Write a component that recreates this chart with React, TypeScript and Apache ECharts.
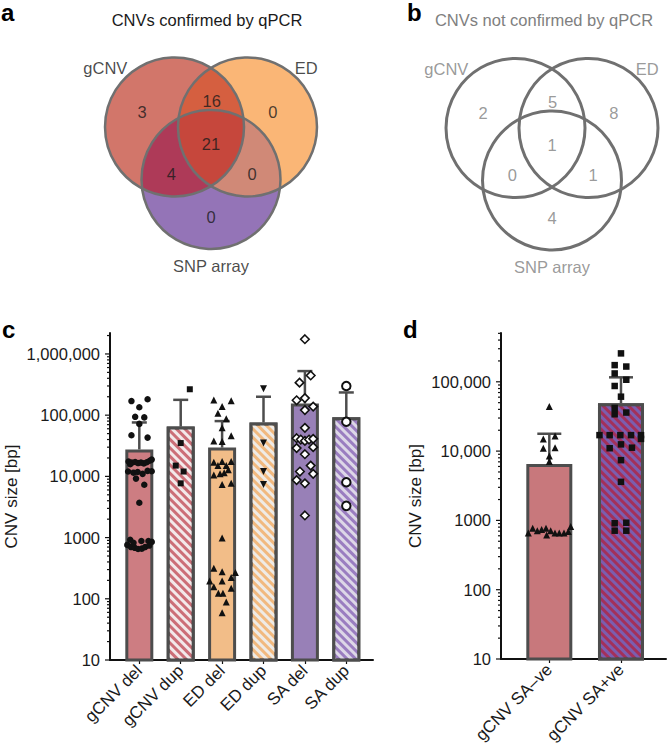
import React, { useEffect, useRef } from 'react';
import * as echarts from 'echarts';

// ---------- DATA ----------
// Venn regions order: gCNV only, gCNV∩ED, ED only, all three, gCNV∩SNP, ED∩SNP, SNP only
const vennRegions = ['gCNV', 'gCNV&ED', 'ED', 'gCNV&ED&SNP', 'gCNV&SNP', 'ED&SNP', 'SNP'];
const confirmedCounts = [3, 16, 0, 21, 4, 0, 0];
const notConfirmedCounts = [2, 5, 8, 1, 0, 1, 4];
const setNames = ['gCNV', 'ED', 'SNP array'];

// Panel c
const sizeCategories = ['gCNV del', 'gCNV dup', 'ED del', 'ED dup', 'SA del', 'SA dup'];
const sizeMeans = [27500, 65000, 29500, 76000, 155000, 92500];
const sizeUpper = [76000, 178000, 80000, 200000, 525000, 235000];
const yTicksC = [10, 100, 1000, 10000, 100000, 1000000];

const gcnvDelBp = [170000, 182000, 135000, 94000, 92000, 72000, 47000, 43000, 17500, 16800, 17200, 16500, 16800, 16300, 17000, 18000, 18800, 15800, 12000, 11500, 11800, 11000, 12300, 12100, 9200, 7300, 3700, 920, 880, 880, 850, 760, 700, 680, 650, 660, 700, 740, 820];
const gcnvDelJitter = [-0.19, 0.2, 0.0, -0.1, 0.12, 0.0, -0.19, 0.2, -0.26, -0.18, -0.1, -0.03, 0.04, 0.11, 0.18, 0.25, 0.3, -0.22, -0.27, -0.14, -0.04, 0.08, 0.2, 0.3, -0.08, 0.12, 0.0, -0.22, 0.05, 0.22, 0.3, -0.29, -0.2, -0.11, -0.03, 0.06, 0.14, 0.24, -0.14];
const gcnvDupBp = [265000, 35000, 15000, 12000, 7700];
const gcnvDupJitter = [0.22, 0.0, -0.12, 0.07, 0.0];
const edDelBp = [177000, 172000, 138000, 107000, 87000, 62000, 38000, 46000, 37000, 17000, 15000, 17500, 15000, 17500, 10500, 11000, 11500, 12800, 7400, 7700, 980, 315, 277, 270, 195, 195, 222, 157, 123, 123, 148, 89, 59];
const edDelJitter = [-0.2, 0.22, 0.0, -0.1, 0.1, 0.0, -0.2, 0.22, 0.0, -0.2, -0.1, 0.0, 0.1, 0.22, -0.2, -0.05, 0.05, 0.15, 0.0, 0.22, 0.0, -0.2, 0.0, 0.32, -0.3, 0.0, 0.22, -0.2, -0.09, 0.02, 0.22, 0.1, 0.0];
const edDupBp = [270000, 35000, 12000, 7400];
const edDupJitter = [0, 0, 0, 0];
const saDelBp = [1740000, 445000, 340000, 175000, 190000, 138000, 121000, 62000, 42000, 40000, 38000, 40000, 41000, 29000, 30000, 23000, 15000, 12000, 11000, 8700, 7700, 2300];
const saDelJitter = [0, 0.14, -0.13, -0.2, 0, 0.2, 0, 0, -0.2, -0.1, 0, 0.1, 0.2, -0.2, 0.2, 0, 0.14, -0.12, 0.2, -0.2, 0, 0];
const saDupBp = [300000, 78000, 8000, 3300];
const saDupJitter = [0, 0, 0, 0];

// Panel d
const saCategories = ['gCNV SA\u2013ve', 'gCNV SA+ve'];
const saMeans = [6500, 49000];
const saUpper = [17800, 116000];
const yTicksD = [10, 100, 1000, 10000, 100000];
const saNegBp = [44000, 15000, 16500, 11000, 11200, 8500, 7100, 660, 770, 710, 740, 770, 710, 615, 660, 660, 660, 690, 815];
const saNegJitter = [0, -0.084, 0.08, -0.084, 0.08, 0, 0, -0.293, -0.232, -0.167, -0.107, -0.046, 0.019, -0.037, 0.079, 0.139, 0.205, 0.265, 0.298];
const saPosBp = [257000, 174000, 166000, 132000, 107000, 87000, 61000, 42000, 34000, 36000, 17000, 17000, 17000, 17000, 17000, 15000, 11000, 12500, 11200, 7400, 3600, 910, 925, 710, 710];
const saPosJitter = [0, -0.088, 0.074, -0.088, 0.074, -0.088, 0, -0.088, -0.088, 0.074, -0.3, -0.158, -0.009, 0.14, 0.279, 0.279, -0.158, 0, 0.153, 0, 0, -0.088, 0.074, -0.088, 0.074];

// ---------- LAYOUT / STYLE ----------
const FONT = '"Liberation Sans", Arial, Helvetica, sans-serif';
const INK = '#1a1a1a';
const GREY = '#808080';
const BAR_EDGE = '#4d4d4d';

// Venn layout in units of circle radius
const VENN_CENTERS = [[-0.525, 0], [0.525, 0], [0, -0.755]];
const VENN_COUNT_POS = [[-0.99, 0.22], [0.01, 0.37], [0.89, 0.22], [0, -0.25], [-0.57, -0.68], [0.59, -0.68], [0, -1.3]];
const VENN_NAME_POS = [[-1.52, 0.85], [1.37, 0.85], [0, -2.0]];
const VENN_FILLS: Record<string, string> = {
  A: '#d2766a', B: '#fab676', C: '#9474b7',
  AB: '#d55f40', AC: '#ae3a58', BC: '#d08977', ABC: '#c6473c',
};

function fmtBp(v: number) {
  const n = Math.round(v);
  if (n < 10000) return String(n);
  return String(n).replace(/\B(?=(\d{3})+(?!\d))/g, ',');
}

function isDecade(v: number) {
  const l = Math.log10(v);
  return Math.abs(l - Math.round(l)) < 1e-6;
}

function intersect(p: number[], q: number[], r: number) {
  const dx = q[0] - p[0];
  const dy = q[1] - p[1];
  const d = Math.hypot(dx, dy);
  const a = d / 2;
  const h = Math.sqrt(Math.max(r * r - a * a, 0));
  const mx = p[0] + dx / 2;
  const my = p[1] + dy / 2;
  const ux = -dy / d;
  const uy = dx / d;
  return [[mx + h * ux, my + h * uy], [mx - h * ux, my - h * uy]];
}

function vennRenderer(kinds: string[], stroke: string, lw: number) {
  const idx: Record<string, number> = { A: 0, B: 1, C: 2 };
  return (params: any, api: any) => {
    const kind = kinds[params.dataIndex];
    const c = VENN_CENTERS.map((p) => api.coord(p));
    const r = api.size([1, 0])[0];
    if (kind[0] === 'o') {
      const i = idx[kind[1]];
      return { type: 'circle', shape: { cx: c[i][0], cy: c[i][1], r }, style: { fill: 'none', stroke, lineWidth: lw } };
    }
    if (kind.length === 1) {
      const i = idx[kind];
      return { type: 'circle', shape: { cx: c[i][0], cy: c[i][1], r }, style: { fill: VENN_FILLS[kind] } };
    }
    if (kind.length === 2) {
      const i = idx[kind[0]];
      const j = idx[kind[1]];
      const [p1, p2] = intersect(c[i], c[j], r);
      const d = `M${p1[0]} ${p1[1]} A${r} ${r} 0 0 1 ${p2[0]} ${p2[1]} A${r} ${r} 0 0 1 ${p1[0]} ${p1[1]} Z`;
      return { type: 'path', shape: { pathData: d }, style: { fill: VENN_FILLS[kind] } };
    }
    // triple intersection
    const pairs = [[0, 1, 2], [0, 2, 1], [1, 2, 0]];
    const pts = pairs.map(([i, j, k]) => {
      const [p1, p2] = intersect(c[i], c[j], r);
      const d1 = Math.hypot(p1[0] - c[k][0], p1[1] - c[k][1]);
      const d2 = Math.hypot(p2[0] - c[k][0], p2[1] - c[k][1]);
      return d1 < d2 ? p1 : p2;
    });
    const cx = (pts[0][0] + pts[1][0] + pts[2][0]) / 3;
    const cy = (pts[0][1] + pts[1][1] + pts[2][1]) / 3;
    pts.sort((u, v) => Math.atan2(u[1] - cy, u[0] - cx) - Math.atan2(v[1] - cy, v[0] - cx));
    let d = `M${pts[0][0]} ${pts[0][1]}`;
    for (let t = 1; t <= 3; t++) {
      const p = pts[t % 3];
      d += ` A${r} ${r} 0 0 1 ${p[0]} ${p[1]}`;
    }
    d += ' Z';
    return { type: 'path', shape: { pathData: d }, style: { fill: VENN_FILLS.ABC } };
  };
}

function vennSeries(grid: number, kinds: string[], stroke: string, lw: number) {
  return {
    type: 'custom',
    xAxisIndex: grid,
    yAxisIndex: grid,
    silent: true,
    renderItem: vennRenderer(kinds, stroke, lw),
    data: kinds.map(() => [0, 0]),
  };
}

function vennLabelSeries(grid: number, positions: number[][], texts: string[], color: string) {
  return {
    type: 'scatter',
    xAxisIndex: grid,
    yAxisIndex: grid,
    silent: true,
    clip: false,
    symbolSize: 1,
    itemStyle: { color: 'rgba(0,0,0,0)' },
    data: positions.map((p, i) => ({ value: p, label: { formatter: texts[i] } })),
    label: { show: true, position: 'inside', fontSize: 16.5, color, fontFamily: FONT },
  };
}

function tickSeries(grid: number, maxVal: number) {
  const vals: number[] = [];
  for (let k = 1; k <= 7; k++) {
    for (let m = 1; m <= 9; m++) {
      const v = m * Math.pow(10, k);
      if (v <= maxVal * 1.0001) vals.push(v);
    }
  }
  return {
    type: 'custom',
    xAxisIndex: grid,
    yAxisIndex: grid,
    silent: true,
    clip: false,
    encode: { x: 0, y: 1 },
    renderItem: (params: any, api: any) => {
      const v = api.value(1);
      const y = api.coord([0, v])[1];
      const x0 = params.coordSys.x;
      const len = isDecade(v) ? 5 : 3;
      return { type: 'line', shape: { x1: x0 - len, y1: y, x2: x0, y2: y }, style: { stroke: '#111', lineWidth: 1.2 } };
    },
    data: vals.map((v) => [0, v]),
  };
}

function errorSeries(grid: number, means: number[], upper: number[], cap: number) {
  return {
    type: 'custom',
    xAxisIndex: grid,
    yAxisIndex: grid,
    silent: true,
    encode: { x: 0, y: [1, 2] },
    renderItem: (params: any, api: any) => {
      const x = api.value(0);
      const p0 = api.coord([x, api.value(1)]);
      const p1 = api.coord([x, api.value(2)]);
      const st = { stroke: BAR_EDGE, lineWidth: 2.5 };
      return {
        type: 'group',
        children: [
          { type: 'line', shape: { x1: p0[0], y1: p0[1], x2: p1[0], y2: p1[1] }, style: st },
          { type: 'line', shape: { x1: p1[0] - cap, y1: p1[1], x2: p1[0] + cap, y2: p1[1] }, style: st },
        ],
      };
    },
    data: means.map((m, i) => [i, m, upper[i]]),
  };
}

function pointSeries(grid: number, cat: number, values: number[], jitter: number[], sym: any) {
  return {
    type: 'scatter',
    xAxisIndex: grid,
    yAxisIndex: grid,
    silent: true,
    clip: false,
    symbol: sym.symbol,
    symbolSize: sym.size,
    symbolRotate: sym.rotate || 0,
    itemStyle: sym.hollow
      ? { color: '#fff', borderColor: '#111', borderWidth: sym.bw || 1.6, opacity: 1 }
      : { color: '#111', opacity: 1 },
    data: values.map((v, i) => [cat + jitter[i], v]),
  };
}

function stripe(color: string, gap: number) {
  return {
    symbol: 'rect',
    symbolSize: 1,
    color,
    dashArrayX: [1, 0],
    dashArrayY: [gap, gap],
    rotation: Math.PI / 4,
  };
}

function logYAxis(grid: number, max: number, nameGap: number) {
  return {
    type: 'log',
    gridIndex: grid,
    min: 10,
    max,
    logBase: 10,
    axisLine: { show: true, onZero: false, lineStyle: { color: '#111', width: 2 } },
    axisTick: { show: false },
    splitLine: { show: false },
    minorTick: { show: false },
    axisLabel: {
      margin: 10,
      fontSize: 16.5,
      color: INK,
      fontFamily: FONT,
      formatter: (v: number) => (isDecade(v) ? fmtBp(v) : ''),
    },
    name: 'CNV size [bp]',
    nameLocation: 'middle',
    nameGap,
    nameTextStyle: { fontSize: 17, color: INK, fontFamily: FONT },
  };
}

function catXAxis(grid: number, min: number, max: number, names: string[]) {
  const vals = names.map((_, i) => i);
  return {
    type: 'value',
    gridIndex: grid,
    min,
    max,
    axisLine: { show: true, onZero: false, lineStyle: { color: '#111', width: 2 } },
    axisTick: { show: true, customValues: vals, length: 4, lineStyle: { color: '#111', width: 1.2 } },
    splitLine: { show: false },
    axisLabel: {
      customValues: vals,
      rotate: 45,
      margin: 8,
      fontSize: 17,
      color: INK,
      fontFamily: FONT,
      formatter: (v: number) => names[Math.round(v)] || '',
    },
  };
}

function hiddenAxis(grid: number, min: number, max: number) {
  return { type: 'value', gridIndex: grid, min, max, show: false };
}

function buildOption() {
  const kindsA = ['A', 'B', 'C', 'AB', 'AC', 'BC', 'ABC', 'oA', 'oB', 'oC'];
  const kindsB = ['oA', 'oB', 'oC'];

  const cBars = [
    { value: [0, sizeMeans[0]], itemStyle: { color: '#cd7d82' } },
    { value: [1, sizeMeans[1]], itemStyle: { color: '#cc6e77', decal: stripe('#f3e9ea', 2.3) } },
    { value: [2, sizeMeans[2]], itemStyle: { color: '#f2bd88' } },
    { value: [3, sizeMeans[3]], itemStyle: { color: '#f1b97f', decal: stripe('#efebe6', 2.3) } },
    { value: [4, sizeMeans[4]], itemStyle: { color: '#9880b7' } },
    { value: [5, sizeMeans[5]], itemStyle: { color: '#9a7dc0', decal: stripe('#ddd7e7', 2.3) } },
  ];
  const dBars = [
    { value: [0, saMeans[0]], itemStyle: { color: '#c8787c' } },
    { value: [1, saMeans[1]], itemStyle: { color: '#a3305a', decal: stripe('#7b5eaf', 3) } },
  ];

  return {
    animation: false,
    backgroundColor: '#ffffff',
    textStyle: { fontFamily: FONT },
    grid: [
      { left: 72, top: 22.75, width: 250.2, height: 264.1, outerBoundsMode: 'none', containLabel: false },
      { left: 413, top: 23.75, width: 250.2, height: 264.1, outerBoundsMode: 'none', containLabel: false },
      { left: 110, top: 333, width: 263, height: 327, outerBoundsMode: 'none', containLabel: false },
      { left: 501, top: 333, width: 165, height: 326, outerBoundsMode: 'none', containLabel: false },
    ],
    xAxis: [
      hiddenAxis(0, -2, 1.6),
      hiddenAxis(1, -2, 1.6),
      catXAxis(2, -0.708, 5.645, sizeCategories),
      catXAxis(3, -0.674, 1.628, saCategories),
    ],
    yAxis: [
      hiddenAxis(0, -2.3, 1.5),
      hiddenAxis(1, -2.3, 1.5),
      logYAxis(2, 2.2e6, 90),
      logYAxis(3, 5.06e5, 77),
    ],
    graphic: [
      { type: 'text', left: 1, top: 0, style: { text: 'a', font: `bold 24px ${FONT}`, fill: '#000' } },
      { type: 'text', left: 407, top: 0, style: { text: 'b', font: `bold 24px ${FONT}`, fill: '#000' } },
      { type: 'text', left: 2, top: 317, style: { text: 'c', font: `bold 24px ${FONT}`, fill: '#000' } },
      { type: 'text', left: 403, top: 317, style: { text: 'd', font: `bold 24px ${FONT}`, fill: '#000' } },
      { type: 'text', x: 207, y: 20, style: { text: 'CNVs confirmed by qPCR', font: `16.5px ${FONT}`, fill: INK, textAlign: 'center', textVerticalAlign: 'middle' } },
      { type: 'text', x: 544, y: 20, style: { text: 'CNVs not confirmed by qPCR', font: `16.5px ${FONT}`, fill: GREY, textAlign: 'center', textVerticalAlign: 'middle' } },
    ],
    series: [
      vennSeries(0, kindsA, '#707070', 2.5),
      vennLabelSeries(0, VENN_COUNT_POS, confirmedCounts.map(String), INK),
      vennLabelSeries(0, VENN_NAME_POS, setNames, INK),
      vennSeries(1, kindsB, '#707070', 3),
      vennLabelSeries(1, VENN_COUNT_POS, notConfirmedCounts.map(String), GREY),
      vennLabelSeries(1, VENN_NAME_POS, setNames, GREY),

      {
        type: 'bar', xAxisIndex: 2, yAxisIndex: 2, barWidth: 28, clip: true, silent: true,
        itemStyle: { borderColor: BAR_EDGE, borderWidth: 3 },
        data: cBars,
      },
      errorSeries(2, sizeMeans, sizeUpper, 7.5),
      tickSeries(2, 2.2e6),
      pointSeries(2, 0, gcnvDelBp, gcnvDelJitter, { symbol: 'circle', size: 6.5 }),
      pointSeries(2, 1, gcnvDupBp, gcnvDupJitter, { symbol: 'rect', size: 6 }),
      pointSeries(2, 2, edDelBp, edDelJitter, { symbol: 'triangle', size: 7 }),
      pointSeries(2, 3, edDupBp, edDupJitter, { symbol: 'triangle', size: 7, rotate: 180 }),
      pointSeries(2, 4, saDelBp, saDelJitter, { symbol: 'diamond', size: 8.5, hollow: true, bw: 1.6 }),
      pointSeries(2, 5, saDupBp, saDupJitter, { symbol: 'circle', size: 8.5, hollow: true, bw: 2 }),

      {
        type: 'bar', xAxisIndex: 3, yAxisIndex: 3, barWidth: 46, clip: true, silent: true,
        itemStyle: { borderColor: BAR_EDGE, borderWidth: 3 },
        data: dBars,
      },
      errorSeries(3, saMeans, saUpper, 12),
      tickSeries(3, 5.06e5),
      pointSeries(3, 0, saNegBp, saNegJitter, { symbol: 'triangle', size: 7 }),
      pointSeries(3, 1, saPosBp, saPosJitter, { symbol: 'rect', size: 6.5 }),
    ],
  };
}

export default function App() {
  const ref = useRef<HTMLDivElement>(null);
  useEffect(() => {
    if (!ref.current) return;
    const chart = echarts.init(ref.current, null, { renderer: 'svg' });
    chart.setOption(buildOption() as any);
    return () => chart.dispose();
  }, []);
  return <div ref={ref} style={{ position: 'absolute', left: 0, top: 0, width: 668, height: 745 }} />;
}
